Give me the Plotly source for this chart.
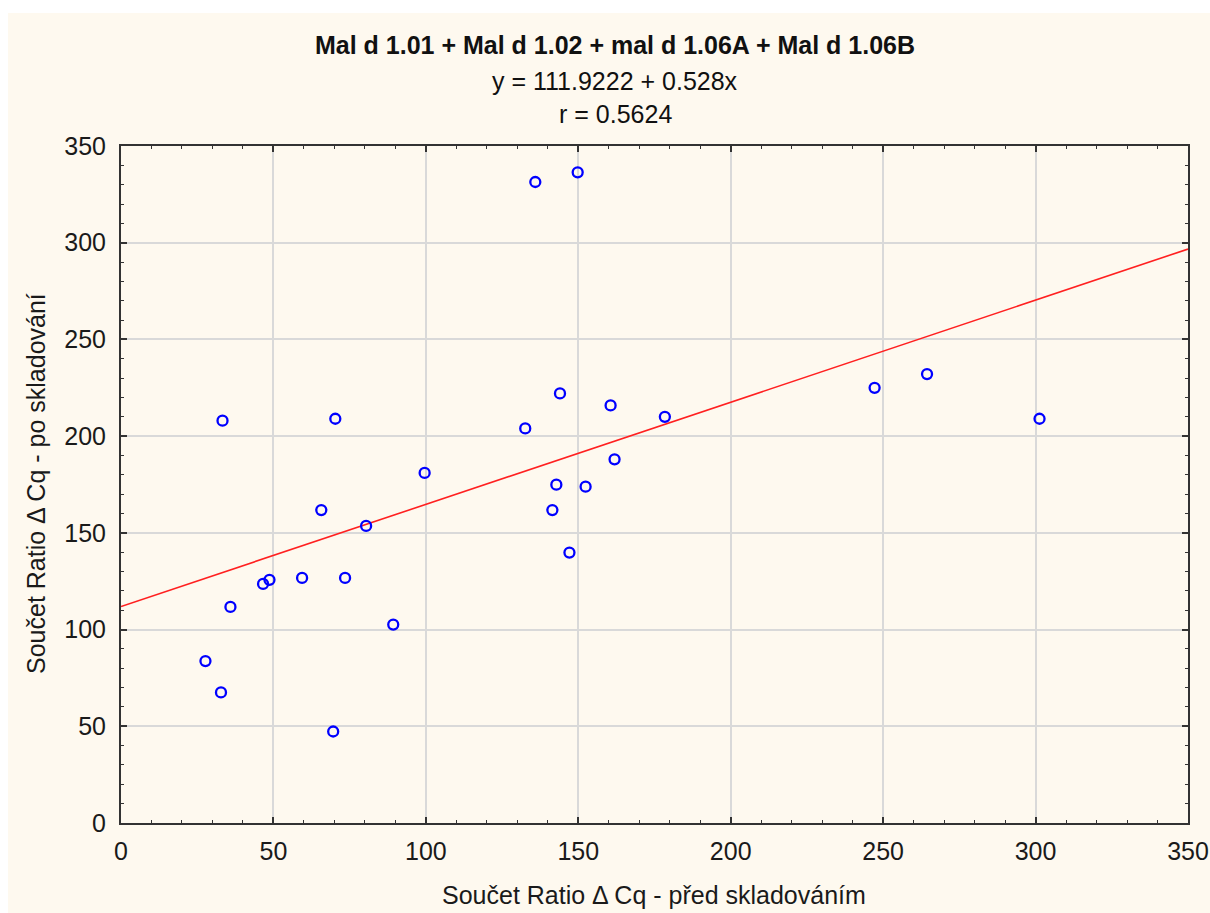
import plotly.graph_objects as go

# Data
pred_skladovanim = [33.3, 70.3, 99.6, 65.7, 80.4, 46.6, 48.7, 59.4, 73.5, 35.9,
                    89.3, 27.7, 32.8, 69.6, 135.9, 149.8, 144.0, 160.6, 132.6, 178.4,
                    161.9, 142.8, 152.4, 141.5, 147.1, 247.2, 264.4, 301.3]
po_skladovani = [208.0, 209.0, 181.0, 161.8, 153.6, 123.6, 125.7, 126.7, 126.7, 111.7,
                 102.6, 83.7, 67.5, 47.3, 331.4, 336.4, 222.1, 215.9, 204.0, 210.0,
                 188.0, 174.9, 173.9, 161.8, 139.8, 225.0, 232.1, 209.0]

intercept = 111.9222
slope = 0.528
line_x = [0, 350]
line_y = [intercept + slope * v for v in line_x]

tick_vals = [0, 50, 100, 150, 200, 250, 300, 350]

title_lines = ["<b>Mal d 1.01 + Mal d 1.02 + mal d 1.06A + Mal d 1.06B</b>",
               "y = 111.9222 + 0.528x",
               "r = 0.5624"]
x_title = "Součet Ratio Δ Cq - před skladováním"
y_title = "Součet Ratio Δ Cq - po skladování"

FONT = "Liberation Sans, Arial, sans-serif"
CREAM = "#FEF9EF"

fig = go.Figure()
fig.add_trace(go.Scatter(x=line_x, y=line_y, mode="lines",
                         line=dict(color="#FF2020", width=1.6),
                         hoverinfo="skip", showlegend=False))
fig.add_trace(go.Scatter(x=pred_skladovanim, y=po_skladovani, mode="markers",
                         marker=dict(symbol="circle-open", size=10,
                                     color="#0000FF", line=dict(width=2.3, color="#0000FF")),
                         showlegend=False))

L, R, T, B = 121, 22, 146, 90
W, H = 1210, 913
pw, ph = W - L - R, H - T - B

def px_x(p):
    return (p - L) / pw

def px_y(p):
    return (H - B - p) / ph

axis_common = dict(
    range=[0, 350], tickvals=tick_vals, showgrid=True, gridcolor="#D9D9D9", gridwidth=1.5,
    zeroline=False, showline=True, linecolor="#333333", linewidth=2, mirror="allticks",
    ticks="inside", ticklen=6, tickwidth=1.5, tickcolor="#333333", automargin=False,
    minor=dict(dtick=10, ticks="inside", ticklen=3, tickwidth=1.2, tickcolor="#333333", showgrid=False),
    tickfont=dict(family=FONT, size=25, color="#1a1a1a"), fixedrange=True,
)
fig.update_xaxes(ticklabelstandoff=5, **axis_common)
fig.update_yaxes(ticklabelstandoff=8, **axis_common)

annotations = []
ys = [45, 80.5, 113.5]
sizes = [25, 25, 25]
for txt, yy, s in zip(title_lines, ys, sizes):
    annotations.append(dict(text=txt, xref="paper", yref="paper", x=px_x(615), y=px_y(yy),
                            xanchor="center", yanchor="middle", showarrow=False,
                            font=dict(family=FONT, size=s, color="#111111")))
annotations.append(dict(text=x_title, xref="paper", yref="paper", x=px_x(654), y=px_y(895),
                        xanchor="center", yanchor="middle", showarrow=False,
                        font=dict(family=FONT, size=25, color="#1a1a1a")))
annotations.append(dict(text=y_title, xref="paper", yref="paper", x=px_x(36), y=px_y(484),
                        xanchor="center", yanchor="middle", showarrow=False, textangle=-90,
                        font=dict(family=FONT, size=25, color="#1a1a1a")))

fig.update_layout(
    width=W, height=H, autosize=False, margin=dict(l=L, r=R, t=T, b=B, pad=0),
    paper_bgcolor="white", plot_bgcolor="white",
    annotations=annotations,
    shapes=[dict(type="rect", xref="paper", yref="paper", layer="below",
                 x0=px_x(8), x1=px_x(1210), y0=px_y(913), y1=px_y(13),
                 fillcolor=CREAM, line=dict(width=0))],
    showlegend=False,
)

fig.write_html("out.html", config={"displayModeBar": False, "responsive": False})
